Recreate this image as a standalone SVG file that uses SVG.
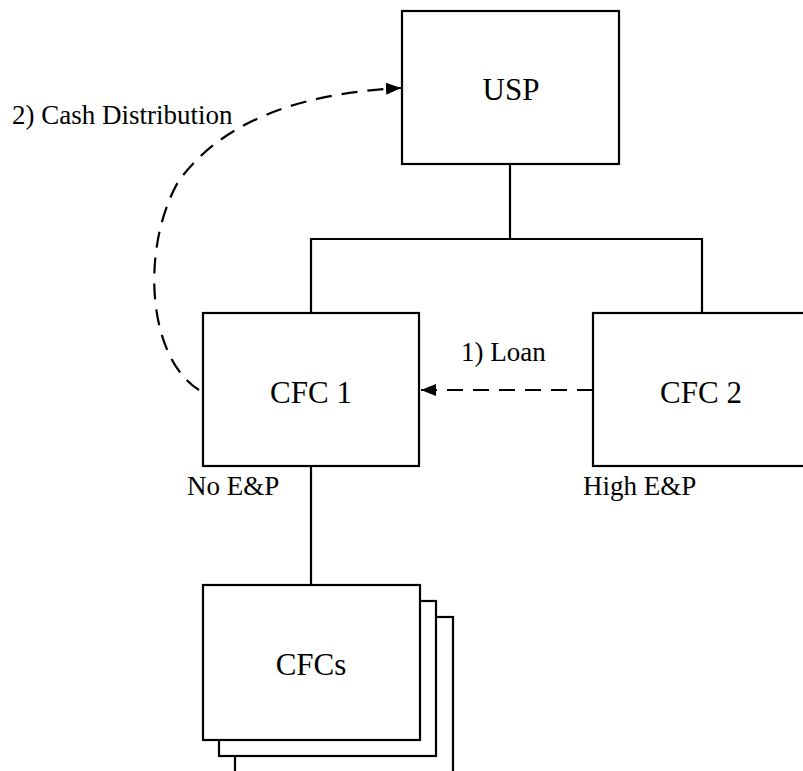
<svg xmlns="http://www.w3.org/2000/svg" width="803" height="771" viewBox="0 0 803 771">
<style>
.box{fill:#fff;stroke:#000;stroke-width:2.2}
.ln{fill:none;stroke:#000;stroke-width:2.2}
.dash{fill:none;stroke:#000;stroke-width:2.2;stroke-dasharray:16 10}
.t{font-size:31px;fill:#000;text-anchor:middle}
.lb{font-size:27px;fill:#000}
</style>
<defs>
<marker id="ah" markerWidth="15" markerHeight="12" refX="15" refY="6" orient="auto" markerUnits="userSpaceOnUse">
<path d="M0,0 L15,6 L0,12 Z" fill="#000"/>
</marker>
</defs>
<rect width="803" height="771" fill="#fff"/>
<g id="connectors">
<path class="ln" d="M510,164 V239"/>
<path class="ln" d="M311,313 V239 H702 V313"/>
<path class="ln" d="M311,466 V585"/>
<path class="dash" d="M593,390 H421" marker-end="url(#ah)"/>
<path class="dash" d="M199,390 C148,358 140,250 178,182 C228,112 320,92 401,88" marker-end="url(#ah)"/>
</g>
<g font-family="'Liberation Serif', serif">
<g id="usp"><rect class="box" x="402" y="11" width="217" height="153"/><text class="t" x="511" y="100">USP</text></g>
<g id="cfc1"><rect class="box" x="203" y="313" width="216" height="153"/><text class="t" x="311" y="403">CFC 1</text></g>
<g id="cfc2"><rect class="box" x="593" y="313" width="216" height="153"/><text class="t" x="701" y="403">CFC 2</text></g>
<g id="cfcs">
<rect class="box" x="235" y="617" width="218" height="170"/>
<rect class="box" x="219" y="601" width="217" height="155"/>
<rect class="box" x="203" y="585" width="217" height="155"/>
<text class="t" x="311" y="675">CFCs</text>
</g>
<g id="labels">
<text class="lb" x="12" y="124">2) Cash Distribution</text>
<text class="lb" x="461" y="361">1) Loan</text>
<text class="lb" x="187" y="495">No E&amp;P</text>
<text class="lb" x="583" y="495">High E&amp;P</text>
</g>
</g>
</svg>
